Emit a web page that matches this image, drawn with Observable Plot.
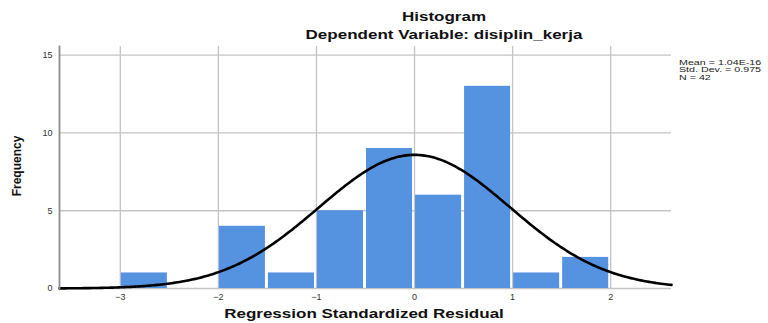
<!DOCTYPE html>
<html>
<head>
<meta charset="utf-8">
<script src="https://cdn.jsdelivr.net/npm/d3@7"></script>
<script src="https://cdn.jsdelivr.net/npm/@observablehq/plot@0.6"></script>
<style>
  html, body { margin: 0; padding: 0; background: #fff; }
  #wrap { position: relative; width: 768px; height: 323px; overflow: hidden; }
  #wrap svg { position: absolute; left: 0; top: 0; }
  .t { position: absolute; font-family: "Liberation Sans", Arial, sans-serif; font-weight: bold; white-space: nowrap; line-height: 1; color: #111; }
  .c { transform: translateX(-50%) scaleX(1.36); transform-origin: center; }
  .leg { position: absolute; font-family: "Liberation Sans", Arial, sans-serif; font-size: 6.6px; line-height: 6.6px; height: 6.6px; color: #222; white-space: nowrap; transform: scaleX(1.62); transform-origin: left top; }
</style>
</head>
<body>
<div id="wrap"></div>
<script>
// Histogram data (bin starts, counts)
const binStarts = [-3, -2.5, -2, -1.5, -1, -0.5, 0, 0.5, 1, 1.5];
const counts    = [1, 0, 4, 1, 5, 9, 6, 13, 1, 2];
const binWidth  = 0.5;
// Summary statistics shown in the legend
const mean = 1.04e-16;
const stdDev = 0.975;
const nObs = 42;
const xTicks = [-3, -2, -1, 0, 1, 2];
const yTicks = [0, 5, 10, 15];
const xDomain = [-3.62, 2.62];
const yDomain = [0, 15.56];

const bins = binStarts.map((s, i) => ({x1: s, x2: s + binWidth, y: counts[i]})).filter(d => d.y > 0);

// Normal curve scaled to counts: N * binWidth * pdf
const pdf = x => Math.exp(-0.5 * ((x - mean) / stdDev) ** 2) / (stdDev * Math.sqrt(2 * Math.PI));
const curvePts = d3.range(0, 301).map(i => {
  const x = xDomain[0] + (xDomain[1] - xDomain[0]) * i / 300;
  return {x, y: nObs * binWidth * pdf(x)};
});

const chart = Plot.plot({
  width: 768,
  height: 323,
  marginLeft: 59,
  marginRight: 97,
  marginTop: 46,
  marginBottom: 35,
  style: {fontFamily: "'Liberation Sans', Arial, sans-serif", background: "transparent"},
  x: {domain: xDomain},
  y: {domain: yDomain},
  marks: [
    Plot.gridX(xTicks, {stroke: "#c4c4c4", strokeOpacity: 1, strokeWidth: 1.3}),
    Plot.gridY(yTicks, {stroke: "#c4c4c4", strokeOpacity: 1, strokeWidth: 1.3}),
    Plot.rectY(bins, {x1: "x1", x2: "x2", y: "y", fill: "#5592e0", insetLeft: 1, insetRight: 2}),
    Plot.line(curvePts, {x: "x", y: "y", stroke: "#000", strokeWidth: 2.6}),
    Plot.frame({anchor: "left", stroke: "#8c8c8c", strokeWidth: 1.8}),
    Plot.axisX(xTicks, {tickSize: 0, tickPadding: 5, fontSize: 9, fill: "#333", label: null}),
    Plot.axisY(yTicks, {tickSize: 0, tickPadding: 7, fontSize: 9, fill: "#333", label: null})
  ]
});

const wrap = document.getElementById("wrap");
wrap.appendChild(chart);

function addText(cls, text, styles) {
  const d = document.createElement("div");
  d.className = cls;
  d.textContent = text;
  Object.assign(d.style, styles);
  wrap.appendChild(d);
  return d;
}
addText("t c", "Histogram", {left: "444px", top: "11px", fontSize: "12.5px"});
addText("t c", "Dependent Variable: disiplin_kerja", {left: "444px", top: "29px", fontSize: "12.5px"});
addText("t c", "Regression Standardized Residual", {left: "364px", top: "308px", fontSize: "12.5px"});
addText("t", "Frequency", {left: "17px", top: "166px", fontSize: "12px", transform: "translate(-50%,-50%) rotate(-90deg)", transformOrigin: "center"});
const legLines = [
  `Mean = ${mean.toExponential(2).toUpperCase()}`,
  `Std. Dev. = ${stdDev}`,
  `N = ${nObs}`
];
legLines.forEach((line, i) => {
  addText("leg", line, {left: "679px", top: (59.5 + i * 7.5) + "px"});
});
</script>
</body>
</html>
